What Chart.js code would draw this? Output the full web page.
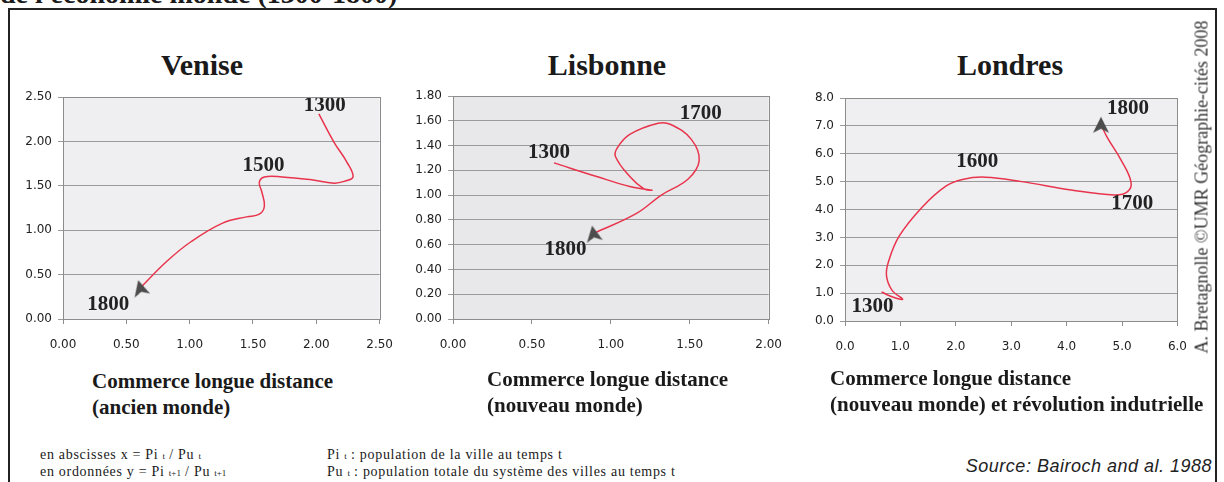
<!DOCTYPE html>
<html>
<head>
<meta charset="utf-8">
<script src="https://cdn.jsdelivr.net/npm/chart.js@4/dist/chart.umd.min.js"></script>
<style>
	body{ margin:0; width:1224px; height:482px; background:#fff; position:relative; overflow:hidden; font-family:"Liberation Serif", serif; color:#1a1a1a; }
	.abs{ position:absolute; }
	.top-title{ left:0; top:-22px; font-size:28px; font-weight:bold; white-space:nowrap; }
	.frame{ left:8px; top:8px; width:1205px; height:500px; border:2px solid #222; }
	.city{ font-size:30px; font-weight:bold; text-align:center; width:200px; }
	.axis-title{ font-size:21px; font-weight:bold; line-height:26px; white-space:nowrap; }
	.credit{ left:1202px; top:187px; transform:translate(-50%,-50%) rotate(-90deg); font-size:18px; white-space:nowrap; color:#333; }
	.note{ font-size:14px; line-height:15px; letter-spacing:0.7px; white-space:nowrap; }
	.note sub{ font-size:9px; vertical-align:0; letter-spacing:0; }
	.source{ right:12px; top:456px; font-family:"Liberation Sans", sans-serif; font-style:italic; font-size:18px; letter-spacing:0.5px; color:#222; }
	canvas{ position:absolute; }
</style>
</head>
<body>
<div class="abs top-title">de l'économie monde (1300-1800)</div>
<div class="abs frame"></div>

<div class="abs city" style="left:102px; top:48px;">Venise</div>
<div class="abs city" style="left:507px; top:48px;">Lisbonne</div>
<div class="abs city" style="left:910px; top:48px;">Londres</div>

<canvas id="venise" width="394" height="282" style="left:13px; top:82px;"></canvas>
<canvas id="lisbonne" width="393" height="283" style="left:403px; top:81px;"></canvas>
<canvas id="londres" width="406" height="283" style="left:795px; top:83px;"></canvas>

<div class="abs axis-title" style="left:92px; top:368px;">Commerce longue distance<br>(ancien monde)</div>
<div class="abs axis-title" style="left:487px; top:366px;">Commerce longue distance<br>(nouveau monde)</div>
<div class="abs axis-title" style="left:830px; top:365px;">Commerce longue distance<br>(nouveau monde) et révolution indutrielle</div>

<div class="abs credit">A. Bretagnolle ©UMR Géographie-cités 2008</div>

<div class="abs note" style="left:40px; top:447px;">en abscisses x = Pi <sub>t</sub> / Pu <sub>t</sub><br>en ordonnées y = Pi <sub>t+1</sub> / Pu <sub>t+1</sub></div>
<div class="abs note" style="left:327px; top:447px;">Pi <sub>t</sub> : population de la ville au temps t<br>Pu <sub>t</sub> : population totale du système des villes au temps t</div>
<div class="abs source">Source: Bairoch and al. 1988</div>

<script>
// Venise (ancien monde)
var venise_x = [2.02, 2.14, 2.24, 2.29, 2.22, 2.14, 1.95, 1.73, 1.59, 1.55, 1.57, 1.59, 1.55, 1.45, 1.26, 1.01, 0.82, 0.61];
var venise_y = [2.31, 1.99, 1.77, 1.60, 1.55, 1.53, 1.57, 1.60, 1.60, 1.54, 1.43, 1.27, 1.18, 1.15, 1.08, 0.87, 0.65, 0.35];
var venise_years = ["1300", "1500", "1800"];
var venise_year_points = [0, 8, 17];
var venise_x_ticks = [0, 0.5, 1, 1.5, 2, 2.5];
var venise_y_ticks = [0, 0.5, 1, 1.5, 2, 2.5];

// Lisbonne (nouveau monde)
var lisbonne_x = [0.64, 0.91, 1.12, 1.26, 1.21, 1.12, 1.03, 1.04, 1.12, 1.30, 1.38, 1.51, 1.56, 1.49, 1.32, 1.16, 0.89];
var lisbonne_y = [1.26, 1.15, 1.07, 1.04, 1.05, 1.15, 1.31, 1.38, 1.49, 1.58, 1.57, 1.45, 1.28, 1.13, 1.00, 0.85, 0.69];
var lisbonne_years = ["1300", "1700", "1800"];
var lisbonne_year_points = [0, 10, 16];
var lisbonne_x_ticks = [0, 0.5, 1, 1.5, 2];
var lisbonne_y_ticks = [0, 0.2, 0.4, 0.6, 0.8, 1.0, 1.2, 1.4, 1.6, 1.8];

// Londres (nouveau monde + revolution industrielle)
var londres_x = [0.66, 0.86, 1.04, 0.85, 0.75, 0.78, 0.98, 1.40, 1.82, 2.12, 2.53, 3.19, 4.08, 4.86, 5.10, 5.16, 4.98, 4.74, 4.62];
var londres_y = [1.04, 0.86, 0.78, 1.10, 1.60, 2.10, 3.05, 4.10, 4.84, 5.08, 5.16, 5.00, 4.70, 4.52, 4.64, 5.00, 5.78, 6.56, 7.04];
var londres_years = ["1300", "1600", "1700", "1800"];
var londres_year_points = [0, 10, 13, 18];
var londres_x_ticks = [0, 1, 2, 3, 4, 5, 6];
var londres_y_ticks = [0, 1, 2, 3, 4, 5, 6, 7, 8];

// notched arrow head used as the last point
function make_arrow(){
	var c = document.createElement("canvas");
	c.width = 18; c.height = 18;
	var g = c.getContext("2d");
	g.fillStyle = "#4d4d4d";
	g.beginPath();
	g.moveTo(9, 1);
	g.lineTo(17, 17);
	g.lineTo(9, 13);
	g.lineTo(1, 17);
	g.closePath();
	g.fill();
	return c;
}
var arrow = make_arrow();

var plot_frame = {
	id: "plot_frame",
	beforeDraw: function(chart, args, opts){
		var a = chart.chartArea, ctx = chart.ctx;
		ctx.save();
		ctx.fillStyle = opts.background;
		ctx.fillRect(a.left, a.top, a.right - a.left, a.bottom - a.top);
		ctx.restore();
	},
	afterDraw: function(chart, args, opts){
		var a = chart.chartArea, ctx = chart.ctx;
		ctx.save();
		ctx.strokeStyle = "#8c8c8c";
		ctx.lineWidth = 1;
		ctx.strokeRect(Math.round(a.left) + 0.5, Math.round(a.top) + 0.5, Math.round(a.right - a.left), Math.round(a.bottom - a.top));
		ctx.restore();
	}
};

var year_labels = {
	id: "year_labels",
	afterDatasetsDraw: function(chart, args, opts){
		var ctx = chart.ctx;
		var xs = chart.scales.x, ys = chart.scales.y;
		var data = chart.data.datasets[0].data;
		ctx.save();
		ctx.font = "bold 21px 'Liberation Serif'";
		ctx.fillStyle = "#222";
		ctx.textAlign = "center";
		ctx.textBaseline = "middle";
		for(var i = 0; i < opts.years.length; i++){
			var p = data[opts.points[i]];
			var off = opts.offsets[i];
			ctx.fillText(opts.years[i], xs.getPixelForValue(p.x) + off[0], ys.getPixelForValue(p.y) + off[1]);
		}
		ctx.restore();
	}
};

function make_chart(id, xs, ys, x_ticks, y_ticks, decimals, years, points, offsets, bg, arrow_rot){
	var data = [];
	for(var i = 0; i < xs.length; i++){
		data.push({x: xs[i], y: ys[i]});
	}
	var last = data.length - 1;
	var fmt = function(v){ return Number(v).toFixed(decimals); };
	return new Chart(document.getElementById(id), {
		type: "scatter",
		data: {
			datasets: [{
				data: data,
				showLine: true,
				borderColor: "#e8344c",
				borderWidth: 1.5,
				tension: 0.4,
				pointStyle: function(c){ return c.dataIndex === last ? arrow : "circle"; },
				pointRadius: function(c){ return c.dataIndex === last ? 8 : 0; },
				pointRotation: arrow_rot,
				pointHoverRadius: 0
			}]
		},
		options: {
			responsive: false,
			animation: false,
			layout: { padding: { top: 15, right: 20, left: 0, bottom: 0 } },
			plugins: {
				legend: { display: false },
				tooltip: { enabled: false },
				plot_frame: { background: bg },
				year_labels: { years: years, points: points, offsets: offsets }
			},
			scales: {
				x: {
					type: "linear",
					min: x_ticks[0], max: x_ticks[x_ticks.length - 1],
					afterBuildTicks: function(s){ s.ticks = x_ticks.map(function(v){ return {value: v}; }); },
					afterFit: function(s){ s.height = 45; },
					grid: { drawOnChartArea: false, tickLength: 5, color: "#8c8c8c" },
					border: { color: "#8c8c8c" },
					ticks: { callback: fmt, padding: 14, maxRotation: 0, color: "#222", font: { family: "'DejaVu Sans'", size: 12 } }
				},
				y: {
					type: "linear",
					min: y_ticks[0], max: y_ticks[y_ticks.length - 1],
					afterBuildTicks: function(s){ s.ticks = y_ticks.map(function(v){ return {value: v}; }); },
					afterFit: function(s){ s.width = 50; },
					grid: { tickLength: 5, color: "#9a9a9a" },
					border: { color: "#8c8c8c" },
					ticks: { callback: fmt, padding: 6, color: "#222", font: { family: "'DejaVu Sans'", size: 12 } }
				}
			}
		},
		plugins: [plot_frame, year_labels]
	});
}

make_chart("venise", venise_x, venise_y, venise_x_ticks, venise_y_ticks, 2,
	venise_years, venise_year_points, [[6, -8], [-1, -11], [-32, 17]], "#efeff1", -15);
make_chart("lisbonne", lisbonne_x, lisbonne_y, lisbonne_x_ticks, lisbonne_y_ticks, 2,
	lisbonne_years, lisbonne_year_points, [[-5, -10], [30, -11], [-28, 16]], "#e8e8ea", -10);
make_chart("londres", londres_x, londres_y, londres_x_ticks, londres_y_ticks, 1,
	londres_years, londres_year_points, [[-9, 15], [-8, -16], [18, 9], [27, -16]], "#efeff1", 0);
</script>
</body>
</html>
